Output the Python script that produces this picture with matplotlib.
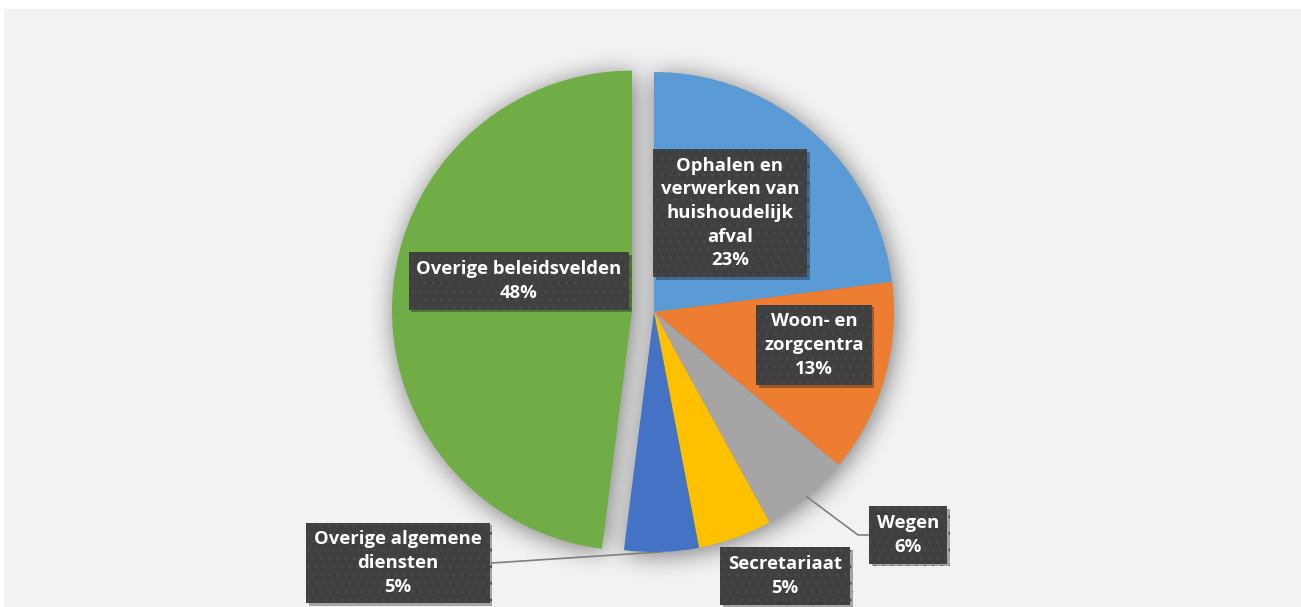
import matplotlib
matplotlib.use("Agg")
import matplotlib.pyplot as plt
import matplotlib.patheffects as pe
from matplotlib.patches import Rectangle
import numpy as np

# data
labels = ["Ophalen en\nverwerken van\nhuishoudelijk\nafval", "Woon- en\nzorgcentra", "Wegen",
          "Secretariaat", "Overige algemene\ndiensten", "Overige beleidsvelden"]
shares = [23, 13, 6, 5, 5, 48]
colors = ["#5b9bd5", "#ed7d31", "#a5a5a5", "#ffc000", "#4472c4", "#70ad47"]
explode = [0, 0, 0, 0, 0, 22]

# label box centres (pixel space, y up)
label_pos = [(730, 394), (814, 262), (908, 72), (785, 31), (398, 44), (519, 326)]

W, H = 1301, 607
fig = plt.figure(figsize=(W / 100, H / 100), dpi=100)
fig.patch.set_facecolor("white")
ax = fig.add_axes([0, 0, 1, 1])

ax.add_patch(Rectangle((4, 0), W - 4, H - 9, facecolor="#f2f2f2", edgecolor="none", zorder=0))

wedges, _ = ax.pie(shares, colors=colors, explode=explode, startangle=90, counterclock=False,
                   center=(654, 295), radius=240, frame=True,
                   wedgeprops=dict(linewidth=0, zorder=3))

# blurred shadow of the whole pie shape, nudged down-right
xx, yy = np.meshgrid(np.arange(W) + 0.5 - 2, np.arange(H) + 0.5 + 3)
mask = np.zeros((H, W))
for w in wedges:
    dx, dy = xx - w.center[0], yy - w.center[1]
    ang = (np.degrees(np.arctan2(dy, dx)) - w.theta1) % 360
    mask[(dx ** 2 + dy ** 2 <= w.r ** 2) & (ang <= (w.theta2 - w.theta1))] = 1

sigma = 12
k = np.arange(-3 * sigma, 3 * sigma + 1)
kern = np.exp(-k ** 2 / (2 * sigma ** 2))
kern /= kern.sum()
blur = np.apply_along_axis(lambda r: np.convolve(r, kern, mode="same"), 1, mask)
blur = np.apply_along_axis(lambda c: np.convolve(c, kern, mode="same"), 0, blur)
shadow = np.zeros((H, W, 4))
shadow[..., 3] = np.clip(blur * 0.5, 0, 1)
ax.imshow(shadow, extent=(0, W, 0, H), origin="lower", zorder=2, interpolation="nearest")

ax.set_xlim(0, W)
ax.set_ylim(0, H)
ax.set_aspect("equal")
ax.axis("off")

# leader lines
def arc_mid(w):
    a = np.deg2rad((w.theta1 + w.theta2) / 2)
    return w.center[0] + w.r * np.cos(a), w.center[1] + w.r * np.sin(a)

x0, y0 = arc_mid(wedges[2])
ax.plot([x0, 858, 868], [y0, 72, 72], color="#7f7f7f", lw=1.2, zorder=4)
x0, y0 = arc_mid(wedges[4])
ax.plot([x0, 492], [y0, 44], color="#7f7f7f", lw=1.2, zorder=2.5)

for lab, s, (x, y) in zip(labels, shares, label_pos):
    t = ax.text(x, y, f"{lab}\n{s}%", ha="center", va="center", color="white",
                fontsize=13.3, fontweight="bold", family="Open Sans", linespacing=1.4, zorder=6,
                bbox=dict(boxstyle="square,pad=0.42", facecolor="#404040", edgecolor="#4a4a4a",
                          linewidth=0, hatch=".."))
    t.get_bbox_patch().set_path_effects([pe.SimplePatchShadow(offset=(2, -2), alpha=0.35),
                                         pe.Normal()])

fig.savefig("out.png", dpi=100, facecolor=fig.get_facecolor())
